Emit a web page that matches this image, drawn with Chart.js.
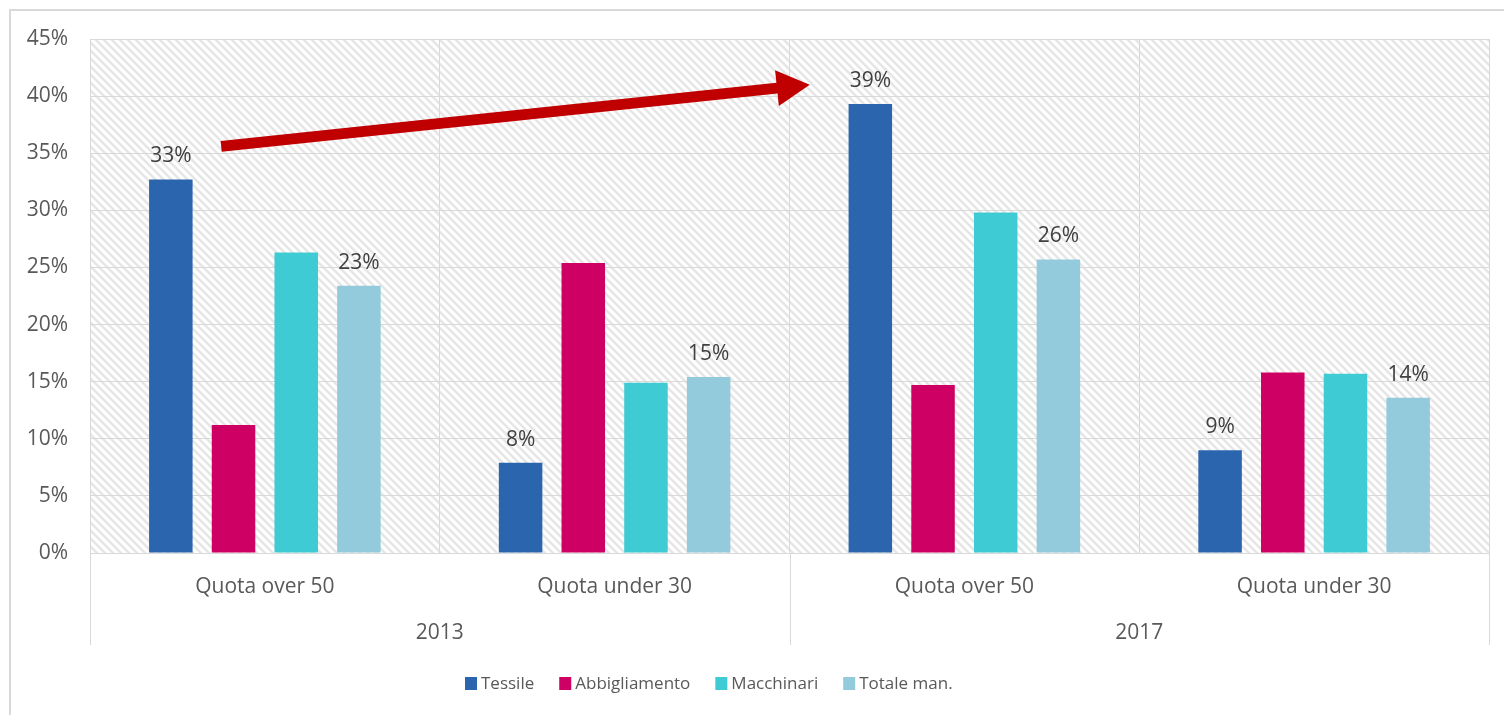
<!DOCTYPE html>
<html>
<head>
<meta charset="utf-8">
<script src="https://cdn.jsdelivr.net/npm/chart.js@4"></script>
<style>
  html, body { margin: 0; padding: 0; background: #ffffff; }
  #wrap { position: relative; width: 1504px; height: 715px; }
</style>
</head>
<body>
<div id="wrap"><canvas id="c" width="1504" height="715"></canvas></div>
<script>
// ---- data ----
const categories = ['Quota over 50', 'Quota under 30', 'Quota over 50', 'Quota under 30'];
const groups = ['2013', '2017'];
const seriesNames = ['Tessile', 'Abbigliamento', 'Macchinari', 'Totale man.'];
const tessile = [32.7, 7.9, 39.3, 9.0];
const abbigliamento = [11.2, 25.4, 14.7, 15.8];
const macchinari = [26.3, 14.9, 29.8, 15.7];
const totaleMan = [23.4, 15.4, 25.7, 13.6];
const yTicks = [0, 5, 10, 15, 20, 25, 30, 35, 40, 45];
const labelledSeries = [0, 3];
// arrow annotation in data space (category index, percent)
const arrowFrom = { x: -0.125, y: 35.6 };
const arrowTo = { x: 1.558, y: 41.0 };

const colors = ['#2B65AE', '#CF0063', '#3ECBD3', '#93CBDC'];
const textColor = '#595959';
const gridColor = '#d9d9d9';
const FONT = "'Open Sans', 'Noto Sans', sans-serif";

// hatch pattern
function makeHatch() {
  const p = document.createElement('canvas');
  p.width = 8; p.height = 8;
  const g = p.getContext('2d');
  g.fillStyle = '#ffffff';
  g.fillRect(0, 0, 8, 8);
  g.strokeStyle = '#e6e6e6';
  g.lineWidth = 2.6;
  g.beginPath();
  g.moveTo(-2, -2); g.lineTo(10, 10);
  g.moveTo(-2, 6); g.lineTo(2, 10);
  g.moveTo(6, -2); g.lineTo(10, 2);
  g.stroke();
  return p;
}
const hatchCanvas = makeHatch();

const framePlugin = {
  id: 'frame',
  beforeDraw(chart) {
    const ctx = chart.ctx;
    const a = chart.chartArea;
    ctx.save();
    ctx.fillStyle = '#ffffff';
    ctx.fillRect(0, 0, chart.width, chart.height);
    // outer frame
    ctx.strokeStyle = gridColor;
    ctx.lineWidth = 2;
    ctx.beginPath();
    ctx.moveTo(10, chart.height + 5); ctx.lineTo(10, 10); ctx.lineTo(chart.width + 5, 10);
    ctx.stroke();
    // hatched plot background
    ctx.fillStyle = ctx.createPattern(hatchCanvas, 'repeat');
    ctx.fillRect(a.left, a.top, a.right - a.left, a.bottom - a.top);
    ctx.restore();
  },
  afterDraw(chart) {
    const ctx = chart.ctx;
    const a = chart.chartArea;
    const xs = chart.scales.x;
    ctx.save();
    // group separators
    ctx.strokeStyle = gridColor;
    ctx.lineWidth = 1;
    const sepX = [a.left, xs.getPixelForValue(1.5), a.right];
    ctx.beginPath();
    sepX.forEach(x => {
      const px = Math.round(x) + 0.5;
      ctx.moveTo(px, a.bottom); ctx.lineTo(px, a.bottom + 92);
    });
    ctx.stroke();
    // group labels
    ctx.fillStyle = textColor;
    ctx.font = '21px ' + FONT;
    ctx.textAlign = 'center';
    ctx.textBaseline = 'middle';
    groups.forEach((g, i) => {
      ctx.fillText(g, xs.getPixelForValue(i * 2 + 0.5), a.bottom + 80);
    });
    // legend
    ctx.font = '17px ' + FONT;
    ctx.textAlign = 'left';
    let x = 465;
    const ly = 683;
    seriesNames.forEach((name, i) => {
      ctx.fillStyle = colors[i];
      ctx.fillRect(x, ly - 6, 12, 13);
      ctx.fillStyle = textColor;
      ctx.fillText(name, x + 16, ly + 1);
      x += 16 + ctx.measureText(name).width + 25;
    });
    ctx.restore();
  },
  afterDatasetsDraw(chart) {
    const ctx = chart.ctx;
    ctx.save();
    // data labels
    ctx.fillStyle = '#404040';
    ctx.font = '21px ' + FONT;
    ctx.textAlign = 'center';
    ctx.textBaseline = 'middle';
    labelledSeries.forEach(di => {
      const meta = chart.getDatasetMeta(di);
      meta.data.forEach((bar, i) => {
        const v = chart.data.datasets[di].data[i];
        ctx.fillText(Math.round(v) + '%', bar.x, bar.y - 23);
      });
    });
    // arrow
    const xs = chart.scales.x, ys = chart.scales.y;
    const x0 = xs.getPixelForValue(arrowFrom.x), y0 = ys.getPixelForValue(arrowFrom.y);
    const x1 = xs.getPixelForValue(arrowTo.x), y1 = ys.getPixelForValue(arrowTo.y);
    const len = Math.hypot(x1 - x0, y1 - y0);
    const ux = (x1 - x0) / len, uy = (y1 - y0) / len;
    const nx = -uy, ny = ux;
    const headLen = 33, headHalf = 18, shaftHalf = 5.5;
    const bx = x1 - ux * headLen, by = y1 - uy * headLen;
    ctx.fillStyle = '#C00000';
    ctx.beginPath();
    ctx.moveTo(x0 + nx * shaftHalf, y0 + ny * shaftHalf);
    ctx.lineTo(bx + nx * shaftHalf, by + ny * shaftHalf);
    ctx.lineTo(bx + nx * headHalf, by + ny * headHalf);
    ctx.lineTo(x1, y1);
    ctx.lineTo(bx - nx * headHalf, by - ny * headHalf);
    ctx.lineTo(bx - nx * shaftHalf, by - ny * shaftHalf);
    ctx.lineTo(x0 - nx * shaftHalf, y0 - ny * shaftHalf);
    ctx.closePath();
    ctx.fill();
    ctx.restore();
  }
};

const seriesData = [tessile, abbigliamento, macchinari, totaleMan];

new Chart(document.getElementById('c'), {
  type: 'bar',
  data: {
    labels: categories,
    datasets: seriesNames.map((n, i) => ({
      label: n,
      data: seriesData[i],
      backgroundColor: colors[i],
      borderWidth: 0,
      barPercentage: 0.694,
      categoryPercentage: 0.717
    }))
  },
  options: {
    responsive: false,
    animation: false,
    devicePixelRatio: 1,
    layout: { padding: { top: 39, right: 15, bottom: 0, left: 0 } },
    plugins: {
      legend: { display: false },
      tooltip: { enabled: false }
    },
    scales: {
      x: {
        offset: true,
        grid: { display: true, offset: true, color: gridColor, lineWidth: 1, drawTicks: false },
        border: { display: true, color: gridColor, width: 1 },
        ticks: { color: textColor, font: { family: FONT, size: 21 }, padding: 21, maxRotation: 0 },
        afterFit(s) { s.height = 162; }
      },
      y: {
        min: 0, max: 45,
        afterBuildTicks(s) { s.ticks = yTicks.map(v => ({ value: v })); },
        grid: { color: gridColor, lineWidth: 1, drawTicks: false },
        border: { display: false },
        ticks: { color: textColor, font: { family: FONT, size: 21 }, padding: 22, callback: v => v + '%' },
        afterFit(s) { s.width = 90; }
      }
    }
  },
  plugins: [framePlugin]
});
</script>
</body>
</html>
